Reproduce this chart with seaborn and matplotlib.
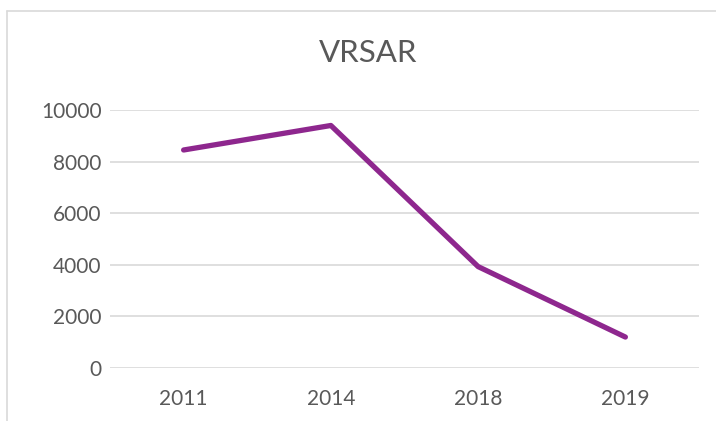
import matplotlib
matplotlib.use("Agg")
import matplotlib.pyplot as plt
import seaborn as sns
import pandas as pd
from matplotlib.lines import Line2D

# data
years = ["2011", "2014", "2018", "2019"]
values = [8450, 9400, 3930, 1200]
y_ticks = [0, 2000, 4000, 6000, 8000, 10000]

df = pd.DataFrame({"year": years, "value": values})

sns.set_theme(style="white")
plt.rcParams["font.family"] = ["Lato", "DejaVu Sans"]

fig = plt.figure(figsize=(7.16, 4.21), dpi=100)
ax = fig.add_axes([110 / 716, 1 - 368 / 421, 589 / 716, 258 / 421])

sns.lineplot(data=df, x="year", y="value", ax=ax, color="#8E278E",
             linewidth=3.8, solid_capstyle="round", sort=False)

ax.set_xlim(-0.5, 3.5)
ax.set_ylim(0, 10000)
ax.set_yticks(y_ticks)
ax.set_yticklabels([str(t) for t in y_ticks])
ax.grid(axis="y", color="#D9D9D9", linewidth=1.2)
ax.set_axisbelow(True)
for s in ax.spines.values():
    s.set_visible(False)
ax.tick_params(axis="both", length=0, labelsize=15, labelcolor="#595959")
ax.tick_params(axis="y", pad=6)
ax.tick_params(axis="x", pad=15)
ax.set_xlabel("")
ax.set_ylabel("")

fig.text(368 / 716, 1 - 53 / 421, "VRSAR", ha="center", va="center",
         fontsize=22.5, color="#595959")

# chart border (only top and left visible)
fig.add_artist(Line2D([7 / 716, 1], [1 - 11 / 421, 1 - 11 / 421],
                      transform=fig.transFigure, color="#D9D9D9", linewidth=1.2))
fig.add_artist(Line2D([7 / 716, 7 / 716], [0, 1 - 11 / 421],
                      transform=fig.transFigure, color="#D9D9D9", linewidth=1.2))

fig.savefig("out.png", dpi=100)
